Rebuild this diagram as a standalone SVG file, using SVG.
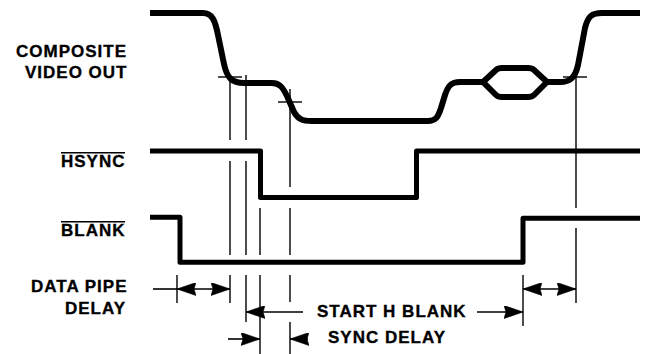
<svg xmlns="http://www.w3.org/2000/svg" width="645" height="354" viewBox="0 0 645 354">
<defs>
<style>
.wave{fill:none;stroke:#000;stroke-width:5;stroke-linejoin:round;stroke-linecap:butt}
.vid{fill:none;stroke:#000;stroke-width:6;stroke-linejoin:round;stroke-linecap:butt}
.thin{fill:none;stroke:#000;stroke-width:1.4}
.arr{fill:none;stroke:#000;stroke-width:1.6}
.lbl{font-family:"Liberation Sans",Arial,Helvetica,sans-serif;font-weight:bold;font-size:17px;letter-spacing:1px;fill:#000;stroke:#000;stroke-width:0.35}
</style>
<marker id="ah" viewBox="0 0 19 13" refX="19" refY="6.5" markerWidth="19" markerHeight="13" markerUnits="userSpaceOnUse" orient="auto-start-reverse">
<path d="M0,0 L19,6.5 L0,13 L2,6.5 Z" fill="#000" stroke="#000" stroke-width="0.6" stroke-linejoin="miter"/>
</marker>
</defs>
<rect width="645" height="354" fill="#fff"/>

<g id="labels">
<text class="lbl" x="16" y="57">COMPOSITE</text>
<text class="lbl" x="25" y="78">VIDEO OUT</text>
<text class="lbl" x="61" y="167">HSYNC</text>
<line class="thin" x1="61" y1="152.7" x2="125" y2="152.7" stroke-width="1.2"/>
<text class="lbl" x="61" y="236">BLANK</text>
<line class="thin" x1="61" y1="221.7" x2="125" y2="221.7" stroke-width="1.2"/>
<text class="lbl" x="31" y="292">DATA PIPE</text>
<text class="lbl" x="65" y="314">DELAY</text>
</g>

<g id="composite-video">
<path class="vid" d="M150,13 L203,13 C212,13 215,20 218,35 L224,64 C227,78 232,83 244,83 L272,83 C280,83 283,88 287,96 L294,112 C298,119 302,121 312,121 L428,121 C436,121 438,117 441,108 L445,95 C448,86 451,82 460,82 L483,82"/>
<path class="vid" d="M483,82 L496,70 Q498,68 502,68 L528,68 Q532,68 534,70 L547,82 L534,95 Q532,97 528,97 L502,97 Q498,97 496,95 Z"/>
<path class="vid" d="M547,82 L560,82 C570,82 575,78 578,65 L585,28 C588,16 592,13 602,13 L640,13"/>
</g>

<g id="hsync">
<path class="wave" d="M150,151 L260.5,151 L260.5,197.5 L416.5,197.5 L416.5,151 L640,151"/>
</g>

<g id="blank">
<path class="wave" d="M150,217.3 L180,217.3 L180,262.3 L523,262.3 L523,218.3 L640,218.3"/>
</g>

<g id="connectors">
<line class="thin" x1="218" y1="77" x2="242" y2="77"/>
<line class="thin" x1="278" y1="102" x2="302" y2="102"/>
<line class="thin" x1="563" y1="77" x2="587" y2="77"/>
<path class="thin" d="M230,77 V140 M230,161 V255 M230,275 V303"/>
<path class="thin" d="M246,75 V140 M246,161 V255 M246,275 V322"/>
<path class="thin" d="M260,208 V255 M260,275 V354"/>
<path class="thin" d="M290,89 V187 M290,208 V255 M290,275 V302 M290,322 V354"/>
<path class="thin" d="M576,75 V208 M576,228 V303"/>
<line class="thin" x1="523" y1="275" x2="523" y2="326"/>
<line class="thin" x1="177" y1="275" x2="177" y2="303"/>
<line class="arr" x1="153" y1="289" x2="177" y2="289"/>
<line class="arr" x1="177" y1="289" x2="230" y2="289" marker-start="url(#ah)" marker-end="url(#ah)"/>
<line class="arr" x1="523" y1="289" x2="576" y2="289" marker-start="url(#ah)" marker-end="url(#ah)"/>
<line class="arr" x1="303" y1="312" x2="246" y2="312" marker-end="url(#ah)"/>
<line class="arr" x1="477" y1="312" x2="523" y2="312" marker-end="url(#ah)"/>
<line class="arr" x1="228" y1="339" x2="260" y2="339" marker-end="url(#ah)"/>
<line class="arr" x1="308" y1="339" x2="290" y2="339" marker-end="url(#ah)"/>
</g>

<g id="dimension-labels">
<text class="lbl" x="317" y="317">START H BLANK</text>
<text class="lbl" x="328" y="343">SYNC DELAY</text>
</g>
</svg>
